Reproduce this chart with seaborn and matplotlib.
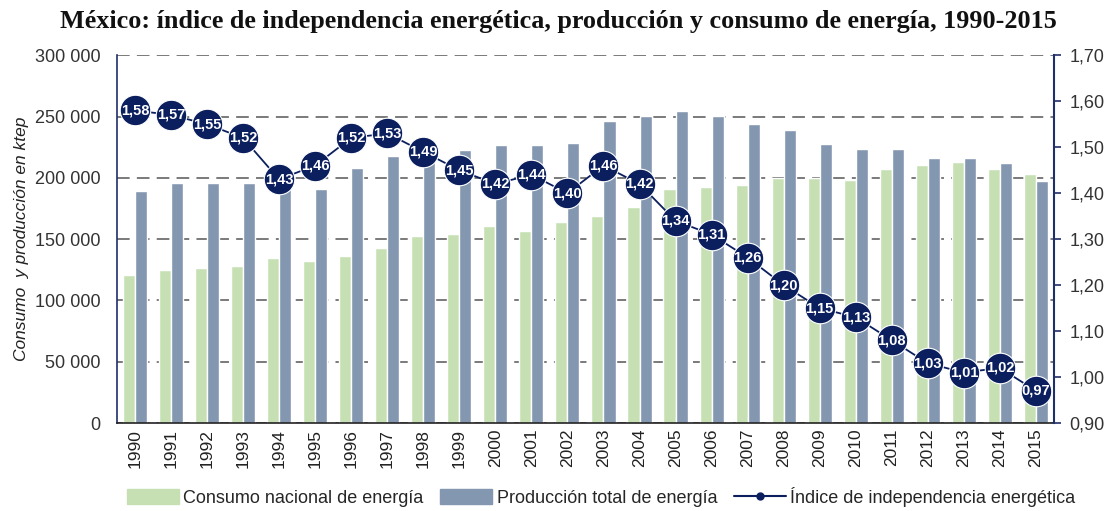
import numpy as np
import pandas as pd
import matplotlib
matplotlib.use('Agg')
import matplotlib.pyplot as plt
import seaborn as sns
from matplotlib.lines import Line2D
from matplotlib.patches import Patch
from matplotlib.ticker import FuncFormatter

years = [str(y) for y in range(1990, 2016)]
consumo = [120.5, 125, 126.7, 128.5, 134.8, 131.8, 136.4, 142.9, 152.4, 153.8,
           160.6, 157, 163.6, 168.5, 176.6, 190.5, 192.4, 194, 199.5, 199.5,
           198.1, 206.8, 210.3, 213, 206.8, 203.5]
produccion = [189, 195.5, 195.5, 195.5, 192.8, 190.5, 208.4, 217.9, 222, 223,
              227, 227, 228.8, 246.7, 250.8, 254.6, 250.8, 243.5, 238.9, 227.2,
              223.1, 223.1, 216.3, 216.3, 211.7, 197.3]
indice = [1.58, 1.57, 1.55, 1.52, 1.43, 1.46, 1.52, 1.53, 1.49, 1.45,
          1.42, 1.44, 1.40, 1.46, 1.42, 1.34, 1.31, 1.26, 1.20, 1.15,
          1.13, 1.08, 1.03, 1.01, 1.02, 0.97]

lbl_cons = 'Consumo nacional de energía'
lbl_prod = 'Producción total de energía'
lbl_ind = 'Índice de independencia energética'

green = '#c6e0b4'
steel = '#8497b0'
navy = '#0b1f5e'

df = pd.DataFrame({'year': years,
                   lbl_cons: np.array(consumo) * 1000,
                   lbl_prod: np.array(produccion) * 1000})
long_df = df.melt(id_vars='year', var_name='serie', value_name='ktep')

sns.set_theme(style='white')
plt.rcParams['font.family'] = ['Liberation Sans', 'DejaVu Sans']

fig = plt.figure(figsize=(11.13, 5.11), dpi=100)
ax = fig.add_axes([0.105, 0.172, 0.842, 0.720])

sns.barplot(data=long_df, x='year', y='ktep', hue='serie',
            palette=[green, steel], width=0.67, saturation=1,
            legend=False, ax=ax, zorder=2)
ax.set_ylim(0, 300000)
ax.set_xlim(-0.5, len(years) - 0.5)
ax.set_yticks(np.arange(0, 300001, 50000))
ax.yaxis.set_major_formatter(FuncFormatter(lambda v, p: f'{int(v):,}'.replace(',', ' ')))
ax.grid(axis='y', linestyle=(0, (7, 4)), color='#6f6f6f', linewidth=1.3, zorder=0)
ax.set_axisbelow(True)
ax.set_xlabel('')
ax.set_ylabel('Consumo  y producción en ktep', fontsize=12.5, style='italic', color='#222222')
ax.tick_params(axis='y', labelsize=13, colors='#333333', length=0, pad=12)
ax.tick_params(axis='x', labelsize=12.5, rotation=90, colors='#222222', length=0, pad=4)
for s in ['top', 'right']:
    ax.spines[s].set_visible(False)
ax.spines['left'].set_color('#1f2f6a')
ax.spines['bottom'].set_color('#222222')
ax.spines['left'].set_linewidth(1.2)
ax.spines['bottom'].set_linewidth(1.2)

ax2 = ax.twinx()
xpos = np.arange(len(years))
sns.lineplot(x=xpos, y=indice, ax=ax2, color=navy, linewidth=1.3,
             marker='o', markersize=22, markerfacecolor=navy,
             markeredgecolor='white', markeredgewidth=0.8, zorder=5)
for x, v in zip(xpos, indice):
    ax2.text(x, v, f'{v:.2f}'.replace('.', ','), color='white', fontsize=10.5,
             fontweight='bold', ha='center', va='center', zorder=6)
ax2.set_ylim(0.90, 1.70)
ax2.set_yticks(np.arange(0.90, 1.701, 0.10))
ax2.yaxis.set_major_formatter(FuncFormatter(lambda v, p: f'{v:.2f}'.replace('.', ',')))
ax2.tick_params(axis='y', labelsize=13, colors='#333333', direction='out',
                length=5, width=1.2, color='#1f2f6a', pad=6)
ax2.grid(False)
for s in ['top', 'left', 'bottom']:
    ax2.spines[s].set_visible(False)
ax2.spines['right'].set_color('#1f2f6a')
ax2.spines['right'].set_linewidth(1.5)
ax2.set_ylabel('')

fig.text(0.502, 0.958, 'México: índice de independencia energética, producción y consumo de energía, 1990-2015',
         ha='center', va='center', fontsize=18.8, fontweight='bold',
         family=['Liberation Serif', 'DejaVu Serif'], color='#111111')

handles = [Patch(color=green, label=lbl_cons),
           Patch(color=steel, label=lbl_prod),
           Line2D([0], [0], color=navy, marker='o', markersize=5, linewidth=1.5, label=lbl_ind)]
fig.legend(handles=handles, loc='center', bbox_to_anchor=(0.54, 0.027), ncol=3,
           frameon=False, fontsize=13,
           handlelength=2.9, handleheight=0.9, columnspacing=0.9, handletextpad=0.25)

fig.savefig('out.png', dpi=100)
